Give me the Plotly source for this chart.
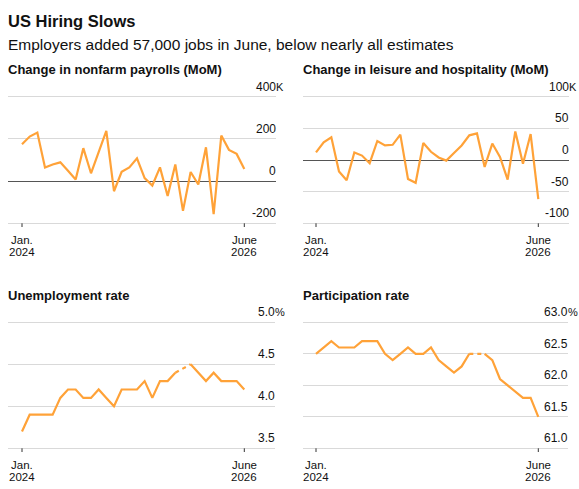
import plotly.graph_objects as go
import pandas as pd

W, H = 579, 489

months = pd.date_range("2024-01-01", "2026-06-01", freq="MS").strftime("%Y-%m").tolist()

payrolls = [175, 211, 230, 64, 79, 89, 49, 8, 156, 37, 137, 238, -48, 44, 65, 108,
            14, -21, 65, -71, 79, -141, 43, -16, 160, -157, 216, 148, 129, 57]
leisure = [12, 28, 36, -18, -32, 12, 7, -5, 30, 23, 24, 40, -30, -36, 27, 13,
           4, -1, 11, 23, 39, 42, -11, 26, 5, -31, 45, -6, 41, -62]
unemployment = [3.7, 3.9, 3.9, 3.9, 3.9, 4.1, 4.2, 4.2, 4.1, 4.1, 4.2, 4.1, 4.0, 4.2, 4.2,
                4.2, 4.3, 4.1, 4.3, 4.3, 4.4, None, 4.5, 4.4, 4.3, 4.4, 4.3, 4.3, 4.3, 4.2]
participation = [62.5, 62.6, 62.7, 62.6, 62.6, 62.6, 62.7, 62.7, 62.7, 62.5, 62.4, 62.5, 62.6,
                 62.5, 62.5, 62.6, 62.4, 62.3, 62.2, 62.3, 62.5, None, 62.5, 62.4, 62.1,
                 62.0, 61.9, 61.8, 61.8, 61.5]

payroll_ticks = [-200, 0, 200, 400]
payroll_labels = ["-200", "0", "200", "400"]
leisure_ticks = [-100, -50, 0, 50, 100]
leisure_labels = ["-100", "-50", "0", "50", "100"]
unemp_ticks = [3.5, 4.0, 4.5, 5.0]
unemp_labels = ["3.5", "4.0", "4.5", "5.0"]
part_ticks = [61.0, 61.5, 62.0, 62.5, 63.0]
part_labels = ["61.0", "61.5", "62.0", "62.5", "63.0"]

x_tick_vals = [months[0], months[-1]]
x_tick_lines = [["Jan.", "2024"], ["June", "2026"]]

title = "US Hiring Slows"
subtitle = "Employers added 57,000 jobs in June, below nearly all estimates"

ORANGE = "#FFA238"
GRID = "#d9d9d9"
FONT = "Liberation Sans, Arial, sans-serif"
TXT = "#111111"

panels = [
    dict(name="Change in nonfarm payrolls (MoM)", data=payrolls, ticks=payroll_ticks,
         labels=payroll_labels, suffix="K", xpx=(8, 276), ypx=(96.7, 223.3), zero=True,
         gap=False),
    dict(name="Change in leisure and hospitality (MoM)", data=leisure, ticks=leisure_ticks,
         labels=leisure_labels, suffix="K", xpx=(303, 569), ypx=(96.7, 223.3), zero=True,
         gap=False),
    dict(name="Unemployment rate", data=unemployment, ticks=unemp_ticks,
         labels=unemp_labels, suffix="%", xpx=(8, 275), ypx=(322.3, 448.3), zero=False,
         gap=True),
    dict(name="Participation rate", data=participation, ticks=part_ticks,
         labels=part_labels, suffix="%", xpx=(303, 568), ypx=(322.3, 448.3), zero=False,
         gap=True),
]

fig = go.Figure()
annotations = []
shapes = []
JAN_PX = {8: 22, 303: 316}
STEP = (244.3 - 22) / 29

layout_axes = {}
for k, p in enumerate(panels):
    n = k + 1
    xa = "x" if n == 1 else f"x{n}"
    ya = "y" if n == 1 else f"y{n}"
    xname = "xaxis" if n == 1 else f"xaxis{n}"
    yname = "yaxis" if n == 1 else f"yaxis{n}"

    fig.add_trace(go.Scatter(x=months, y=p["data"], mode="lines", xaxis=xa, yaxis=ya,
                             line=dict(color=ORANGE, width=2.2), connectgaps=False,
                             hoverinfo="skip", showlegend=False))
    if p["gap"]:
        d = p["data"]
        idx = [i for i in range(1, len(d) - 1) if d[i] is None]
        for i in idx:
            fig.add_trace(go.Scatter(x=[months[i - 1], months[i + 1]], y=[d[i - 1], d[i + 1]],
                                     mode="lines", xaxis=xa, yaxis=ya,
                                     line=dict(color=ORANGE, width=2.2, dash="4px,4px"),
                                     hoverinfo="skip", showlegend=False))

    x0, x1 = p["xpx"]
    jan = JAN_PX[x0]
    r0 = (x0 - jan) / STEP
    r1 = (x1 - jan) / STEP
    y0, y1 = p["ypx"]
    span = p["ticks"][-1] - p["ticks"][0]
    eps = span * 0.03
    px_per_unit = (y1 - y0) / span
    pad = eps * px_per_unit
    layout_axes[xname] = dict(domain=[x0 / W, x1 / W], anchor=ya, type="category",
                              range=[r0, r1], showgrid=False, zeroline=False, showline=False,
                              tickmode="array", tickvals=x_tick_vals, showticklabels=False,
                              ticks="", fixedrange=True)
    layout_axes[yname] = dict(domain=[1 - (y1 + pad) / H, 1 - (y0 - pad) / H], anchor=xa,
                              range=[p["ticks"][0] - eps, p["ticks"][-1] + eps],
                              tickmode="array",
                              tickvals=p["ticks"], showticklabels=False, showgrid=True,
                              gridcolor=GRID, gridwidth=1, zeroline=p["zero"],
                              zerolinecolor="#555555", zerolinewidth=1, showline=False,
                              ticks="", fixedrange=True)
    # tick marks below the bottom gridline, at Jan. 2024 and June 2026
    for xv in x_tick_vals:
        shapes.append(dict(type="line", xref=xa, yref=ya, x0=xv, x1=xv,
                           y0=p["ticks"][0], y1=p["ticks"][0] - 6 / px_per_unit,
                           line=dict(color="#333333", width=1), layer="above"))

    # panel title
    annotations.append(dict(text=f"<b>{p['name']}</b>", xref="paper", yref="paper",
                            x=x0 / W, y=1 - (y0 - 27) / H, xanchor="left", yanchor="middle",
                            showarrow=False, font=dict(family=FONT, size=13, color=TXT),
                            borderpad=0, borderwidth=0))
    # y tick labels (above gridlines, right aligned)
    for j, (v, lab) in enumerate(zip(p["ticks"], p["labels"])):
        annotations.append(dict(text=lab, xref=f"{xa} domain", yref=ya, x=1, y=v,
                                xanchor="right", yanchor="middle", yshift=10,
                                showarrow=False, borderpad=0, borderwidth=0,
                                font=dict(family=FONT, size=12, color=TXT)))
        if j == len(p["ticks"]) - 1:
            annotations.append(dict(text=p["suffix"], xref=f"{xa} domain", yref=ya, x=1, y=v,
                                    xanchor="left", yanchor="middle", yshift=10,
                                    showarrow=False, borderpad=0, borderwidth=0,
                                    font=dict(family=FONT, size=11, color=TXT)))
    # x tick labels
    for xv, lines in zip(x_tick_vals, x_tick_lines):
        for li, line in enumerate(lines):
            annotations.append(dict(text=line, xref=xa, yref=ya, x=xv, y=p["ticks"][0],
                                    xanchor="center", yanchor="middle",
                                    yshift=-16.5 - 12.4 * li, showarrow=False,
                                    borderpad=0, borderwidth=0,
                                    font=dict(family=FONT, size=11.5, color=TXT)))

annotations.append(dict(text=f"<b>{title}</b>", xref="paper", yref="paper", x=8 / W,
                        y=1 - 21 / H, xanchor="left", yanchor="middle", showarrow=False,
                        borderpad=0, borderwidth=0,
                        font=dict(family=FONT, size=16.5, color=TXT)))
annotations.append(dict(text=subtitle, xref="paper", yref="paper", x=8 / W,
                        y=1 - 44.5 / H, xanchor="left", yanchor="middle", showarrow=False,
                        borderpad=0, borderwidth=0,
                        font=dict(family=FONT, size=15.5, color=TXT)))

fig.update_layout(width=W, height=H, margin=dict(l=0, r=0, t=0, b=0),
                  paper_bgcolor="white", plot_bgcolor="rgba(0,0,0,0)",
                  font=dict(family=FONT, color=TXT), annotations=annotations,
                  shapes=shapes, showlegend=False, **layout_axes)

fig.write_html("out.html", config={"displayModeBar": False})
